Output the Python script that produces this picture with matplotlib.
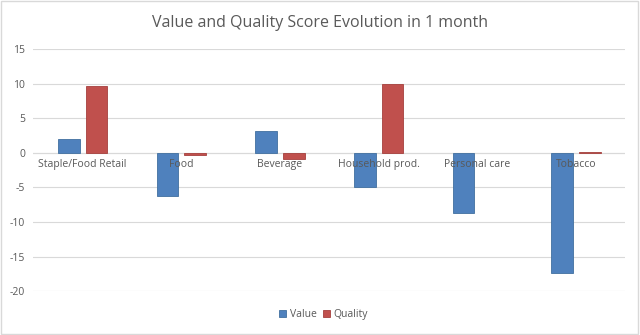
import numpy as np
import matplotlib.pyplot as plt
from matplotlib.patches import Rectangle

categories = ["Staple/Food Retail", "Food", "Beverage", "Household prod.", "Personal care", "Tobacco"]
value = [2.0, -6.3, 3.1, -4.9, -8.7, -17.4]
quality = [9.7, -0.3, -0.9, 10.0, 0.0, 0.15]
yticks = [-20, -15, -10, -5, 0, 5, 10, 15]

plt.rcParams['font.family'] = ['Open Sans', 'DejaVu Sans']
txt = "#595959"

fig = plt.figure(figsize=(6.4, 3.35), dpi=100)
ax = fig.add_axes([0.052, 0.131, 0.925, 0.723])

x = np.arange(len(categories))
w = 0.22
ax.bar(x - 0.14, value, w, color="#4F81BD", edgecolor="#41709F",
       lw=[0.6 if v else 0 for v in value], label="Value", zorder=3)
ax.bar(x + 0.14, quality, w, color="#C0504D", edgecolor="#A5403D",
       lw=[0.6 if v else 0 for v in quality], label="Quality", zorder=3)

ax.set_xlim(-0.5, len(categories) - 0.5)
ax.set_ylim(-20, 15)
ax.set_yticks(yticks)
ax.set_yticklabels([str(t) for t in yticks], fontsize=7.5, color=txt)
ax.tick_params(axis="y", length=0, pad=6)
ax.set_xticks([])
ax.grid(axis="y", color="#D9D9D9", lw=0.8, zorder=0)
ax.axhline(0, color="#D9D9D9", lw=0.8, zorder=1)
for s in ax.spines.values():
    s.set_visible(False)

for xi, name in zip(x, categories):
    ax.text(xi, -0.9, name, ha="center", va="top", fontsize=7.5, color=txt, zorder=4)

fig.text(0.5, 0.93, "Value and Quality Score Evolution in 1 month", ha="center", va="center",
         fontsize=11.5, color=txt)

ax.legend(loc="upper center", bbox_to_anchor=(0.49, -0.035), ncol=2, frameon=False,
          fontsize=7.5, labelcolor=txt, handlelength=0.7, handleheight=0.7,
          handletextpad=0.3, columnspacing=0.6)

fig.patches.append(Rectangle((0.002, 0.003), 0.995, 0.994, transform=fig.transFigure,
                             fill=False, edgecolor="#D9D9D9", lw=1))

plt.savefig("out.png", dpi=100)
